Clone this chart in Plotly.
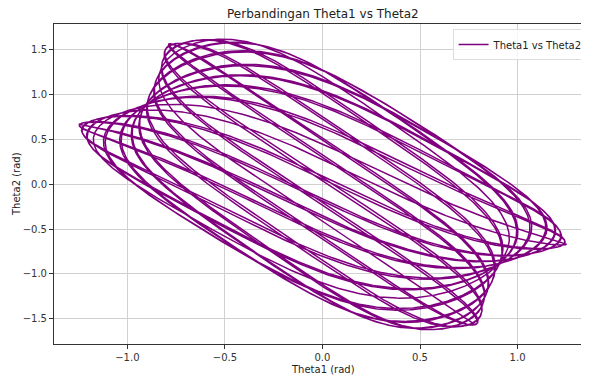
import numpy as np
import plotly.graph_objects as go

# Simulation parameters (double pendulum) read/guessed from the picture
THETA1_0 = np.pi / 4      # initial theta1 (rad)
THETA2_0 = -np.pi / 2     # initial theta2 (rad)
OMEGA1_0 = 0.0
OMEGA2_0 = 0.0
M1, M2 = 1.0, 1.0
L1, L2 = 1.0, 1.0
G = 9.81
T_END = 50.0
DT = 0.002

X_TICKS = [-1.0, -0.5, 0.0, 0.5, 1.0]
X_TICKTEXT = ["\u22121.0", "\u22120.5", "0.0", "0.5", "1.0"]
Y_TICKS = [-1.5, -1.0, -0.5, 0.0, 0.5, 1.0, 1.5]
Y_TICKTEXT = ["\u22121.5", "\u22121.0", "\u22120.5", "0.0", "0.5", "1.0", "1.5"]
TITLE = "Perbandingan Theta1 vs Theta2"
X_LABEL = "Theta1 (rad)"
Y_LABEL = "Theta2 (rad)"
SERIES_NAME = "Theta1 vs Theta2"


def deriv(s):
    t1, w1, t2, w2 = s
    d = t2 - t1
    den1 = (M1 + M2) * L1 - M2 * L1 * np.cos(d) ** 2
    dw1 = (M2 * L1 * w1 ** 2 * np.sin(d) * np.cos(d)
           + M2 * G * np.sin(t2) * np.cos(d)
           + M2 * L2 * w2 ** 2 * np.sin(d)
           - (M1 + M2) * G * np.sin(t1)) / den1
    den2 = (L2 / L1) * den1
    dw2 = (-M2 * L2 * w2 ** 2 * np.sin(d) * np.cos(d)
           + (M1 + M2) * (G * np.sin(t1) * np.cos(d)
                          - L1 * w1 ** 2 * np.sin(d)
                          - G * np.sin(t2))) / den2
    return np.array([w1, dw1, w2, dw2])


n = int(T_END / DT)
s = np.array([THETA1_0, OMEGA1_0, THETA2_0, OMEGA2_0])
theta1 = np.empty(n + 1)
theta2 = np.empty(n + 1)
theta1[0], theta2[0] = s[0], s[2]
for i in range(n):
    k1 = deriv(s)
    k2 = deriv(s + DT / 2 * k1)
    k3 = deriv(s + DT / 2 * k2)
    k4 = deriv(s + DT * k3)
    s = s + DT / 6 * (k1 + 2 * k2 + 2 * k3 + k4)
    theta1[i + 1], theta2[i + 1] = s[0], s[2]

# thin the samples for plotting
theta1 = theta1[::2]
theta2 = theta2[::2]

FONT = "DejaVu Sans"
fig = go.Figure()
fig.add_trace(go.Scatter(x=theta1, y=theta2, mode="lines", name=SERIES_NAME,
                         line=dict(color="#800080", width=1.5)))

axis_common = dict(showgrid=True, gridcolor="#d0d0d0", gridwidth=1, zeroline=False,
                   showline=True, linecolor="#333333", linewidth=1,
                   ticks="outside", ticklen=4, tickcolor="#333333", automargin=False,
                   tickfont=dict(family=FONT, size=10, color="#333333"))

fig.update_layout(
    width=581, height=368,
    margin=dict(l=46, r=0, t=16, b=32),
    paper_bgcolor="white", plot_bgcolor="white",
    title=dict(text=TITLE, xref="container", x=0.542, xanchor="center",
               yref="container", y=0.985, yanchor="middle",
               font=dict(family=FONT, size=12, color="#222222")),
    font=dict(family=FONT, size=10, color="#222222"),
    showlegend=True,
    legend=dict(x=1.003, y=0.984, xanchor="right", yanchor="top",
                bgcolor="rgba(255,255,255,0.8)", bordercolor="#dddddd", borderwidth=1,
                font=dict(family=FONT, size=10, color="#222222")),
    xaxis=dict(range=[-1.376, 1.356], tickvals=X_TICKS, ticktext=X_TICKTEXT,
               mirror=True, **axis_common),
    yaxis=dict(range=[-1.781, 1.789], tickvals=Y_TICKS, ticktext=Y_TICKTEXT,
               **axis_common),
    annotations=[
        dict(text=X_LABEL, xref="paper", yref="paper", x=0.504, y=0,
             xanchor="center", yanchor="middle", yshift=-25, showarrow=False,
             font=dict(family=FONT, size=10, color="#222222")),
        dict(text=Y_LABEL, xref="paper", yref="paper", x=0, y=0.5,
             xanchor="center", yanchor="middle", xshift=-38, textangle=-90,
             showarrow=False, font=dict(family=FONT, size=10, color="#222222")),
    ],
)

fig.write_html("out.html")
